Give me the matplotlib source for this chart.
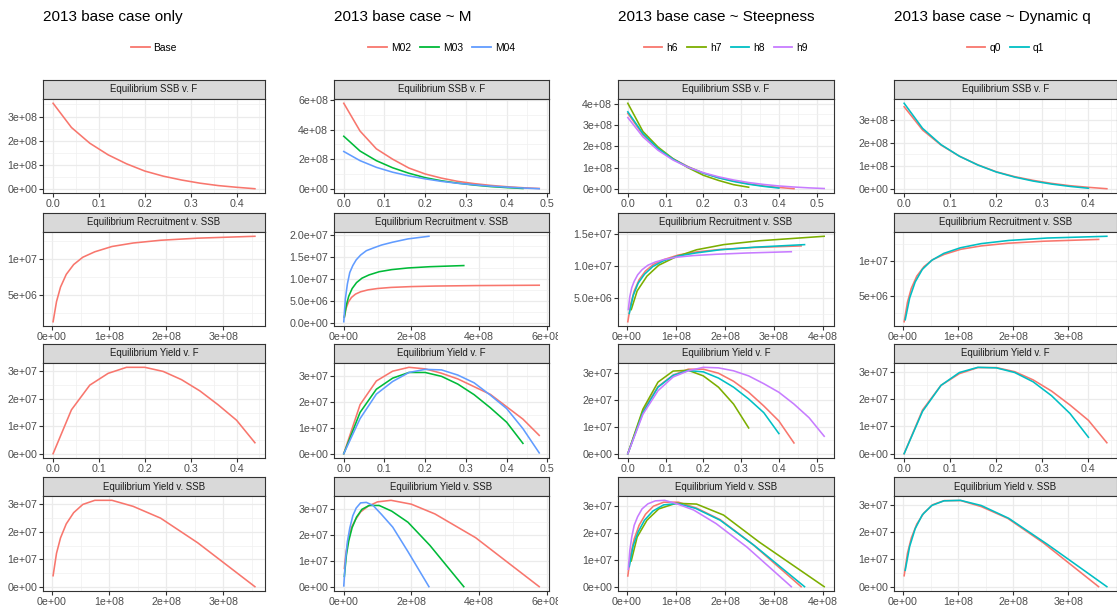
import numpy as np
import matplotlib
matplotlib.use("Agg")
import matplotlib.pyplot as plt
from matplotlib.lines import Line2D
from matplotlib.transforms import Bbox, TransformedBbox

plt.rcParams['font.family'] = ['Liberation Sans', 'DejaVu Sans']

W, H = 1117, 610

# fishing mortality grid of the equilibrium runs
F_GRID = [0.00, 0.04, 0.08, 0.12, 0.16, 0.20, 0.24, 0.28, 0.32, 0.36, 0.40, 0.44, 0.48, 0.52]

# SSB in 1e8, recruitment in 1e6, yield in 1e7
base_ssb = [3.55, 2.55, 1.90, 1.42, 1.05, 0.75, 0.54, 0.38, 0.25, 0.15, 0.08, 0.02]
base_rec = [13.1, 12.84, 12.55, 12.17, 11.69, 10.96, 10.21, 9.2, 7.84, 6.09, 4.09, 1.31]
base_yld = [0.0, 1.60, 2.50, 2.93, 3.15, 3.15, 3.00, 2.70, 2.29, 1.78, 1.22, 0.40]

m02_ssb = [5.78, 3.90, 2.70, 2.00, 1.40, 1.00, 0.72, 0.50, 0.35, 0.23, 0.14, 0.07, 0.02]
m02_rec = [8.60, 8.52, 8.41, 8.29, 8.10, 7.85, 7.54, 7.10, 6.57, 5.80, 4.76, 3.27, 1.27]
m02_yld = [0.0, 1.90, 2.82, 3.20, 3.35, 3.29, 3.12, 2.90, 2.60, 2.30, 1.82, 1.34, 0.71]

m04_ssb = [2.52, 1.90, 1.45, 1.12, 0.87, 0.67, 0.50, 0.37, 0.27, 0.18, 0.11, 0.05, 0.003]
m04_rec = [19.8, 19.2, 18.45, 17.8, 17.1, 16.5, 15.5, 14.4, 13.1, 11.5, 8.9, 5.5, 0.25]
m04_yld = [0.0, 1.36, 2.31, 2.80, 3.15, 3.27, 3.25, 3.05, 2.75, 2.27, 1.75, 0.97, 0.03]

h7_ssb = [4.02, 2.70, 1.97, 1.42, 1.00, 0.65, 0.41, 0.21, 0.09]
h7_rec = [14.6, 13.9, 13.3, 12.5, 11.4, 10.1, 8.4, 6.1, 3.2]
h7_yld = [0.0, 1.66, 2.67, 3.08, 3.11, 2.90, 2.48, 1.85, 0.96]

h8_ssb = [3.62, 2.60, 1.90, 1.40, 1.03, 0.75, 0.53, 0.36, 0.23, 0.13, 0.05]
h8_rec = [13.3, 12.9, 12.5, 12.0, 11.5, 10.8, 9.9, 8.7, 7.3, 5.4, 2.6]
h8_yld = [0.0, 1.53, 2.48, 2.92, 3.10, 3.05, 2.82, 2.48, 2.04, 1.53, 0.75]

h9_ssb = [3.35, 2.45, 1.82, 1.36, 1.02, 0.77, 0.58, 0.43, 0.31, 0.22, 0.15, 0.10, 0.06, 0.03]
h9_rec = [12.2, 12.0, 11.8, 11.6, 11.35, 11.0, 10.6, 10.1, 9.4, 8.6, 7.6, 6.6, 5.2, 3.2]
h9_yld = [0.0, 1.47, 2.35, 2.86, 3.09, 3.22, 3.20, 3.09, 2.90, 2.61, 2.29, 1.85, 1.34, 0.65]

q1_ssb = [3.70, 2.62, 1.92, 1.42, 1.04, 0.74, 0.52, 0.35, 0.22, 0.12, 0.04]
q1_rec = [13.55, 13.3, 12.95, 12.5, 11.9, 11.1, 10.1, 8.8, 7.0, 4.7, 1.6]
q1_yld = [0.0, 1.55, 2.50, 2.97, 3.16, 3.14, 2.97, 2.63, 2.12, 1.47, 0.60]

BASE = (base_ssb, base_rec, base_yld)
COLUMNS = [
    ("2013 base case only", [("Base", BASE)]),
    ("2013 base case ~ M", [("M02", (m02_ssb, m02_rec, m02_yld)), ("M03", BASE),
                            ("M04", (m04_ssb, m04_rec, m04_yld))]),
    ("2013 base case ~ Steepness", [("h6", BASE), ("h7", (h7_ssb, h7_rec, h7_yld)),
                                    ("h8", (h8_ssb, h8_rec, h8_yld)), ("h9", (h9_ssb, h9_rec, h9_yld))]),
    ("2013 base case ~ Dynamic q", [("q0", BASE), ("q1", (q1_ssb, q1_rec, q1_yld))]),
]

# ggplot hue palettes
HUE = {1: ['#F8766D'],
       2: ['#F8766D', '#00BFC4'],
       3: ['#F8766D', '#00BA38', '#619CFF'],
       4: ['#F8766D', '#7CAE00', '#00BFC4', '#C77CFF']}

PANELS = [("Equilibrium SSB v. F", 'F', 'ssb'),
          ("Equilibrium Recruitment v. SSB", 'ssb', 'rec'),
          ("Equilibrium Yield v. F", 'F', 'yld'),
          ("Equilibrium Yield v. SSB", 'ssb', 'yld')]
UNITS = {'ssb': 1e8, 'rec': 1e6, 'yld': 1e7, 'F': 1.0}

# layout in pixels
COL_X = [(43, 265), (334, 549), (618, 834), (894, 1117)]
COL_CLIP = [(0, 300), (300, 558), (558, 850), (850, W)]
ROW_Y = [(80, 99, 193), (213, 232, 326), (344, 363, 458), (477, 496, 591)]
Y_STEP = [[1e8, 5e6, 1e7, 1e7], [2e8, 5e6, 1e7, 1e7], [1e8, 5e6, 1e7, 1e7], [1e8, 5e6, 1e7, 1e7]]
SSB_XSTEP = [1e8, 2e8, 1e8, 1e8]

BORDER = '#333333'
GRID = '#EBEBEB'


def breaks(lo, hi, step):
    k0 = int(np.ceil(lo / step - 1e-9))
    k1 = int(np.floor(hi / step + 1e-9))
    major = [k * step for k in range(k0, k1 + 1)]
    minor = [(k + 0.5) * step for k in range(k0 - 1, k1 + 1) if lo <= (k + 0.5) * step <= hi]
    return major, minor


def sci_labels(ticks):
    # same number of mantissa digits for every label, like R's format()
    for d in range(4):
        labs = [f"{t:.{d}e}" for t in ticks]
        if all(abs(float(s) - t) <= 1e-9 * max(abs(t), 1) for s, t in zip(labs, ticks)):
            return labs
    return labs


def expand(vals):
    lo, hi = min(vals), max(vals)
    pad = 0.05 * (hi - lo)
    return lo - pad, hi + pad


fig = plt.figure(figsize=(W / 100, H / 100), dpi=100)

for ci, (title, series) in enumerate(COLUMNS):
    L, R = COL_X[ci]
    colors = HUE[len(series)]
    clip = TransformedBbox(Bbox([[COL_CLIP[ci][0] / W, 0], [COL_CLIP[ci][1] / W, 1]]), fig.transFigure)

    fig.text(L / W, 1 - 17 / H, title, fontsize=11, ha='left', va='center', color='black')

    handles = [Line2D([], [], color=c, lw=1.3) for c in colors]
    fig.legend(handles, [s[0] for s in series], loc='center',
               bbox_to_anchor=((L + R) / 2 / W, 1 - 48 / H), ncol=len(series),
               frameon=False, fontsize=7.4, handlelength=1.8, handletextpad=0.4,
               columnspacing=0.9, borderaxespad=0, borderpad=0)

    for ri, (strip, xkey, ykey) in enumerate(PANELS):
        st, sb, pb = ROW_Y[ri]

        sax = fig.add_axes([L / W, 1 - sb / H, (R - L) / W, (sb - st) / H])
        sax.set_facecolor('#D9D9D9')
        sax.set_xticks([])
        sax.set_yticks([])
        for sp in sax.spines.values():
            sp.set_color(BORDER)
            sp.set_linewidth(0.8)
        sax.text(0.5, 0.5, strip, transform=sax.transAxes, ha='center', va='center',
                 fontsize=6.9, color='#1A1A1A')

        ax = fig.add_axes([L / W, 1 - pb / H, (R - L) / W, (pb - sb) / H])
        xs_all, ys_all = [], []
        for (name, (ssb, rec, yld)), c in zip(series, colors):
            data = {'ssb': np.array(ssb) * UNITS['ssb'],
                    'rec': np.array(rec) * UNITS['rec'],
                    'yld': np.array(yld) * UNITS['yld'],
                    'F': np.array(F_GRID[:len(ssb)])}
            ax.plot(data[xkey], data[ykey], color=c, lw=1.15)
            xs_all.extend(data[xkey])
            ys_all.extend(data[ykey])

        xlo, xhi = expand(xs_all)
        ylo, yhi = expand(ys_all)
        ax.set_xlim(xlo, xhi)
        ax.set_ylim(ylo, yhi)

        xstep = 0.1 if xkey == 'F' else SSB_XSTEP[ci]
        xmaj, xmin = breaks(xlo, xhi, xstep)
        ymaj, ymin = breaks(ylo, yhi, Y_STEP[ci][ri])
        ax.set_xticks(xmaj)
        ax.set_xticks(xmin, minor=True)
        ax.set_yticks(ymaj)
        ax.set_yticks(ymin, minor=True)
        if xkey == 'F':
            ax.set_xticklabels([f"{t:.1f}" for t in xmaj])
        else:
            ax.set_xticklabels(sci_labels(xmaj))
        ax.set_yticklabels(sci_labels(ymaj))

        ax.set_axisbelow(True)
        ax.grid(which='major', color=GRID, lw=0.9)
        ax.grid(which='minor', color='#F0F0F0', lw=0.5)
        ax.tick_params(which='major', direction='out', length=3, width=0.8, color=BORDER,
                       labelcolor='#4D4D4D', labelsize=7.7, pad=1.2)
        ax.tick_params(which='minor', length=0)
        for sp in ax.spines.values():
            sp.set_color(BORDER)
            sp.set_linewidth(0.8)
        for lab in ax.get_xticklabels():
            lab.set_clip_on(True)
            lab.set_clip_box(clip)

fig.savefig("out.png", dpi=100, facecolor='white')
